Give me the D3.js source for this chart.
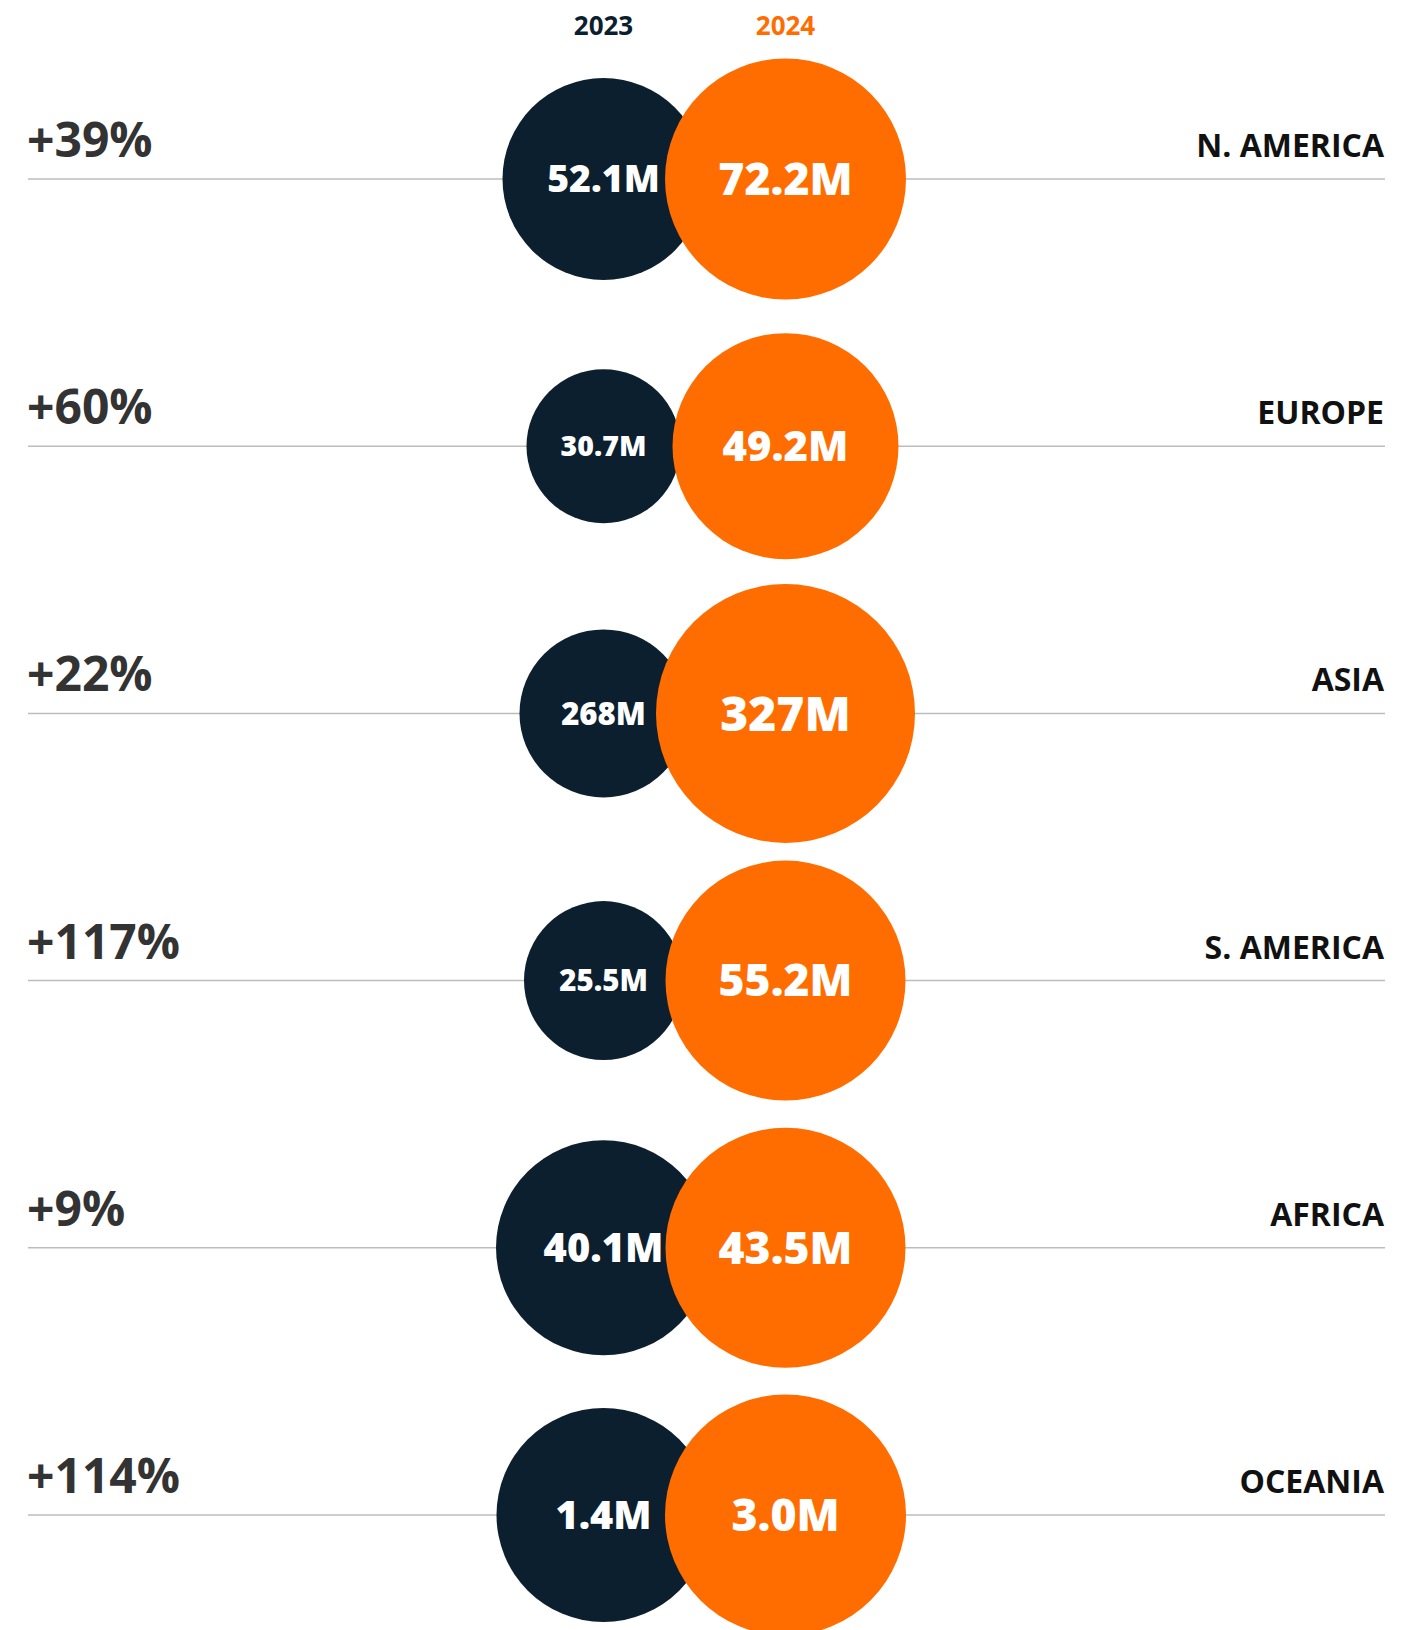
<!DOCTYPE html>
<meta charset="utf-8">
<script src="https://d3js.org/d3.v7.min.js"></script>
<style>
  body { margin: 0; background: #fff; }
  svg text { font-family: "Open Sans", sans-serif; }
</style>
<div id="my_dataviz"></div>
<script>

// data
var regions = ["N. AMERICA", "EUROPE", "ASIA", "S. AMERICA", "AFRICA", "OCEANIA"];
var years = ["2023", "2024"];
var values2023 = ["52.1M", "30.7M", "268M", "25.5M", "40.1M", "1.4M"];
var values2024 = ["72.2M", "49.2M", "327M", "55.2M", "43.5M", "3.0M"];
var growth = ["+39%", "+60%", "+22%", "+117%", "+9%", "+114%"];

// bubble sizes as drawn in the design (not proportional to the values)
var radius2023 = [101, 77, 84, 79.5, 107.5, 107];
var radius2024 = [120.5, 113, 129.5, 120, 120, 120.5];

var width = 1427, height = 1630;
var navy = "#0c1f2f", orange = "#ff6d00";

var svg = d3.select("#my_dataviz")
  .append("svg")
    .attr("width", width)
    .attr("height", height);

// row positions
var y = d3.scalePoint()
  .domain(regions)
  .range([179, 1515]);

// column positions for the two years
var x = d3.scalePoint()
  .domain(years)
  .range([603.5, 785.5]);

var color = d3.scaleOrdinal()
  .domain(years)
  .range([navy, orange]);

// year headers
svg.selectAll("yearLabels")
  .data(years)
  .enter()
  .append("text")
    .attr("x", function(d) { return x(d) })
    .attr("y", 35)
    .attr("text-anchor", "middle")
    .style("font-size", "26px")
    .style("font-weight", 700)
    .style("fill", function(d) { return color(d) })
    .text(function(d) { return d });

var rows = regions.map(function(r, i) {
  return {
    name: r,
    growth: growth[i],
    bubbles: [
      {year: "2023", label: values2023[i], r: radius2023[i]},
      {year: "2024", label: values2024[i], r: radius2024[i]}
    ]
  };
});

var row = svg.selectAll("myRows")
  .data(rows)
  .enter()
  .append("g")
    .attr("transform", function(d) { return "translate(0," + y(d.name) + ")" });

// divider line
row.append("line")
  .attr("x1", 28)
  .attr("x2", 1385)
  .attr("stroke", "#bdbdbd")
  .attr("stroke-width", 1.5);

// growth on the left
row.append("text")
  .attr("x", 27)
  .attr("y", -22)
  .style("font-size", "48px")
  .style("font-weight", 700)
  .style("fill", "#333")
  .text(function(d) { return d.growth });

// region name on the right
row.append("text")
  .attr("x", 1384)
  .attr("y", -22)
  .attr("text-anchor", "end")
  .style("font-size", "32px")
  .style("font-weight", 700)
  .style("fill", "#111")
  .text(function(d) { return d.name });

// bubbles: 2023 first, 2024 on top
var bubble = row.selectAll("myBubbles")
  .data(function(d) { return d.bubbles })
  .enter()
  .append("g")
    .attr("transform", function(d) { return "translate(" + x(d.year) + ",0)" });

bubble.append("circle")
  .attr("r", function(d) { return d.r })
  .style("fill", function(d) { return color(d.year) });

bubble.append("text")
  .attr("text-anchor", "middle")
  .attr("y", function(d) { return d.r * 0.37 * 0.357 })
  .style("font-size", function(d) { return (d.r * 0.37) + "px" })
  .style("font-weight", 800)
  .style("fill", "#fff")
  .text(function(d) { return d.label });

</script>
